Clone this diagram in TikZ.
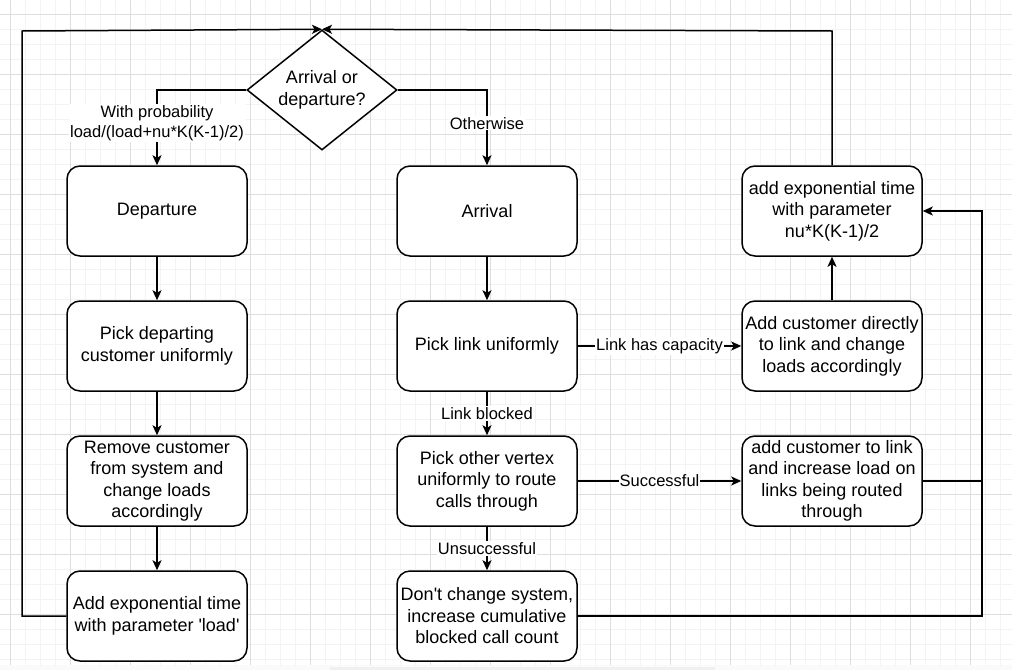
\documentclass[tikz,border=0pt]{standalone}
\usepackage{fontspec}
\setmainfont{Liberation Sans}
\usetikzlibrary{arrows.meta,shapes.geometric}
\definecolor{gridminor}{RGB}{243,243,243}
\definecolor{gridmajor}{RGB}{222,222,222}
\tikzset{
  box/.style={draw=black, line width=1.5pt, fill=white, rounded corners=13pt,
    minimum width=180pt, minimum height=90pt, align=center, inner sep=0pt,
    font=\fontsize{18}{21.5}\selectfont},
  decision/.style={draw=black, line width=1.5pt, fill=white, diamond, aspect=1.25,
    minimum width=150pt, minimum height=120pt, align=center, inner sep=0pt,
    font=\fontsize{18}{21.5}\selectfont},
  conn/.style={line width=1.5pt, draw=black, -{Stealth[length=10pt,width=9pt,inset=2.5pt]}},
  plain/.style={line width=1.5pt, draw=black},
  lbl/.style={fill=white, inner sep=1pt, align=center, font=\fontsize{16.5}{20.5}\selectfont}
}
\begin{document}
\begin{tikzpicture}[x=1pt,y=-1pt]
\useasboundingbox (0,0) rectangle (1012,670);
\fill[white] (0,0) rectangle (1012,670);
% grid
\foreach \x in {-5,10,...,1015} \draw[gridminor, line width=1pt] (\x,0) -- (\x,665);
\foreach \y in {-1,14,...,665} \draw[gridminor, line width=1pt] (0,\y) -- (1012,\y);
\foreach \x in {10,70,...,1000} \draw[gridmajor, line width=1pt] (\x,0) -- (\x,665);
\foreach \y in {14,74,...,665} \draw[gridmajor, line width=1pt] (0,\y) -- (1012,\y);
\fill[gray!4] (0,665) rectangle (1012,670);
\fill[gray!12] (330,667) rectangle (715,670);

% nodes
\node[decision] (dec) at (322,90) {Arrival or\\departure?};
\node[box] (dep) at (157,211) {Departure};
\node[box] (arr) at (487,211) {Arrival};
\node[box] (pickdep) at (157,346) {Pick departing\\customer uniformly};
\node[box] (remove) at (157,481) {Remove customer\\from system and\\change loads\\accordingly};
\node[box] (addload) at (157,616) {Add exponential time\\with parameter \textquotesingle load\textquotesingle};
\node[box] (picklink) at (487,346) {Pick link uniformly};
\node[box] (pickother) at (487,481) {Pick other vertex\\uniformly to route\\calls through};
\node[box] (nochange) at (487,616) {Don\textquotesingle t change system,\\increase cumulative\\blocked call count};
\node[box] (addnu) at (832,211) {add exponential time\\with parameter\\nu*K(K-1)/2};
\node[box] (adddirect) at (832,346) {Add customer directly\\to link and change\\loads accordingly};
\node[box] (addroute) at (832,481) {add customer to link\\and increase load on\\links being routed\\through};

\coordinate (top) at (dec.north);
\coordinate (tl) at (22,31);
\coordinate (bl) at (22,616);
\coordinate (tr) at (832,31);
\coordinate (rr) at (982,211);
\coordinate (rm) at (982,481);
\coordinate (rb) at (982,616);

% connectors
\draw[conn] (dec.west) -| node[lbl, pos=0.72] {With probability\\load/(load+nu*K(K-1)/2)} (dep.north);
\draw[conn] (dec.east) -| node[lbl, pos=0.72] {Otherwise} (arr.north);
\draw[conn] (dep) -- (pickdep);
\draw[conn] (pickdep) -- (remove);
\draw[conn] (remove) -- (addload);
\draw[conn] (addload.west) -- (bl) -- (tl) -- (top);
\draw[conn] (addnu.north) -- (tr) -- (top);
\draw[conn] (arr) -- (picklink);
\draw[conn] (picklink) -- node[lbl] {Link has capacity} (adddirect);
\draw[conn] (picklink) -- node[lbl] {Link blocked} (pickother);
\draw[conn] (pickother) -- node[lbl] {Successful} (addroute);
\draw[conn] (pickother) -- node[lbl] {Unsuccessful} (nochange);
\draw[conn] (adddirect) -- (addnu);
\draw[conn] (addroute.east) -- (rm) -- (rr) -- (addnu.east);
\draw[plain] (nochange.east) -- (rb) -- (rm);
\end{tikzpicture}
\end{document}
